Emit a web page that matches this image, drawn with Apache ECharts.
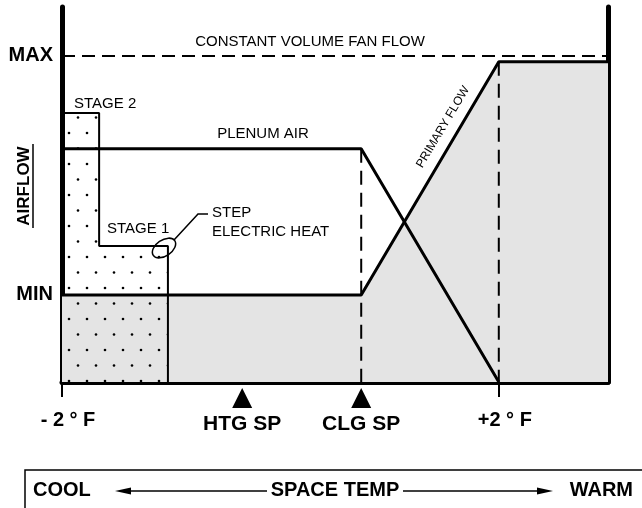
<!DOCTYPE html>
<html>
<head>
<meta charset="utf-8">
<script src="https://cdn.jsdelivr.net/npm/echarts@6/dist/echarts.min.js"></script>
<style>
  html, body { margin: 0; padding: 0; background: #fff; }
  #airflow { width: 642px; height: 508px; }
</style>
</head>
<body>
<div id="airflow"></div>
<script>
// space temp offset (deg F) on x, airflow (% of max) on y
var tempTicks = [-2, 2]
var tempLabels = ['- 2 ° F', '+2 ° F']
var flowTicks = [26.7, 100]
var flowLabels = ['MIN', 'MAX']
var setpointNames = ['HTG SP', 'CLG SP']
var setpointTemps = [-0.35, 0.74]
var primaryFlow = [[-2, 26.7], [0.74, 26.7], [2, 98.2], [3, 98.2]]
var plenumAir = [[-2, 71.5], [0.74, 71.5], [2, 0]]
var fanFlow = [[-2, 100], [3, 100]]
var heatStages = [[-2, 82.5], [-1.66, 82.5], [-1.66, 41.7], [-1.03, 41.7], [-1.03, 0]]
var clgLine = [[0.74, 71.5], [0.74, -2]]
var warmLine = [[2, 98.2], [2, 0]]

var FONT = '"Liberation Sans", Arial, Helvetica, sans-serif'
var GRAY = '#e4e4e4'
var markerY = -4.9

function dotPattern () {
  var c = document.createElement('canvas')
  c.width = 18
  c.height = 31
  var ctx = c.getContext('2d')
  ctx.fillStyle = '#000'
  ;[[15, 9], [6, 24.5]].forEach(function (p) {
    ctx.beginPath()
    ctx.arc(p[0], p[1], 1.3, 0, Math.PI * 2)
    ctx.fill()
  })
  return c
}

var chart = echarts.init(document.getElementById('airflow'))

var boldText = function (size) {
  return { fontFamily: FONT, fontWeight: 'bold', fontSize: size, fill: '#000' }
}
var plainText = function (size) {
  return { fontFamily: FONT, fontSize: size, fill: '#000' }
}

var option = {
  animation: false,
  backgroundColor: '#fff',
  grid: { left: 62, right: 34, top: 7, bottom: 126, containLabel: false },
  xAxis: {
    type: 'value',
    min: -2,
    max: 3,
    splitLine: { show: false },
    axisLine: { show: true, onZero: false, lineStyle: { color: '#000', width: 5 } },
    axisTick: { show: true, customValues: tempTicks, length: 15, lineStyle: { color: '#000', width: 2 } },
    axisLabel: {
      customValues: tempTicks,
      formatter: function (v) { return tempLabels[tempTicks.indexOf(v)] || '' },
      color: '#000',
      fontFamily: FONT,
      fontWeight: 'bold',
      fontSize: 20,
      margin: 28,
      padding: [0, 0, 0, 12]
    }
  },
  yAxis: [
    {
      type: 'value',
      min: 0,
      max: 115,
      position: 'left',
      splitLine: { show: false },
      axisLine: { show: true, onZero: false, lineStyle: { color: '#000', width: 5 } },
      axisTick: { show: false },
      axisLabel: {
        customValues: flowTicks,
        formatter: function (v) { return flowLabels[flowTicks.indexOf(v)] || '' },
        color: '#000',
        fontFamily: FONT,
        fontWeight: 'bold',
        fontSize: 20,
        margin: 9
      }
    },
    {
      type: 'value',
      min: 0,
      max: 115,
      position: 'right',
      splitLine: { show: false },
      axisLine: { show: true, onZero: false, lineStyle: { color: '#000', width: 5 } },
      axisTick: { show: false },
      axisLabel: { show: false }
    }
  ],
  series: [
    {
      name: 'primary area',
      type: 'line',
      data: primaryFlow,
      symbol: 'none',
      lineStyle: { width: 0, opacity: 0 },
      areaStyle: { color: GRAY, opacity: 1 },
      z: 1
    },
    {
      name: 'step electric heat',
      type: 'line',
      data: heatStages,
      symbol: 'none',
      lineStyle: { color: '#000', width: 2 },
      areaStyle: { color: { image: dotPattern(), repeat: 'repeat' }, opacity: 1 },
      z: 2
    },
    {
      name: 'primary flow',
      type: 'line',
      data: primaryFlow,
      symbol: 'none',
      lineStyle: { color: '#000', width: 3 },
      z: 3
    },
    {
      name: 'plenum air',
      type: 'line',
      data: plenumAir,
      symbol: 'none',
      lineStyle: { color: '#000', width: 3 },
      z: 3
    },
    {
      name: 'constant volume fan flow',
      type: 'line',
      data: fanFlow,
      symbol: 'none',
      lineStyle: { color: '#000', width: 2, type: [13, 7] },
      z: 3
    },
    {
      name: 'clg sp',
      type: 'line',
      data: clgLine,
      symbol: 'none',
      clip: false,
      lineStyle: { color: '#000', width: 2, type: [14, 8] },
      z: 3
    },
    {
      name: 'warm limit',
      type: 'line',
      data: warmLine,
      symbol: 'none',
      lineStyle: { color: '#000', width: 2, type: [14, 8] },
      z: 3
    },
    {
      name: 'setpoints',
      type: 'scatter',
      data: setpointTemps.map(function (t, i) { return { value: [t, markerY], name: setpointNames[i] } }),
      symbol: 'triangle',
      symbolSize: [20, 20],
      clip: false,
      itemStyle: { color: '#000', opacity: 1 },
      label: {
        show: true,
        position: 'bottom',
        distance: 6,
        formatter: '{b}',
        color: '#000',
        opacity: 1,
        fontFamily: FONT,
        fontWeight: 'bold',
        fontSize: 21
      },
      z: 4
    }
  ],
  graphic: [
    {
      type: 'group',
      x: 24,
      y: 186,
      rotation: Math.PI / 2,
      children: [
        { type: 'text', style: Object.assign({ text: 'AIRFLOW', x: 0, y: 0, align: 'center', verticalAlign: 'middle' }, boldText(17)) },
        { type: 'line', shape: { x1: -42, y1: 9, x2: 42, y2: 9 }, style: { stroke: '#000', lineWidth: 1.5 } }
      ]
    },
    { type: 'text', x: 310, y: 42, style: Object.assign({ text: 'CONSTANT VOLUME FAN FLOW', align: 'center', verticalAlign: 'middle' }, plainText(15)), z: 10 },
    { type: 'text', x: 263, y: 134, style: Object.assign({ text: 'PLENUM AIR', align: 'center', verticalAlign: 'middle' }, plainText(15)), z: 10 },
    { type: 'text', x: 74, y: 104, style: Object.assign({ text: 'STAGE 2', align: 'left', verticalAlign: 'middle' }, plainText(15)), z: 10 },
    { type: 'text', x: 107, y: 229, style: Object.assign({ text: 'STAGE 1', align: 'left', verticalAlign: 'middle' }, plainText(15)), z: 10 },
    { type: 'text', x: 212, y: 213, style: Object.assign({ text: 'STEP', align: 'left', verticalAlign: 'middle' }, plainText(15)), z: 10 },
    { type: 'text', x: 212, y: 232, style: Object.assign({ text: 'ELECTRIC HEAT', align: 'left', verticalAlign: 'middle' }, plainText(15)), z: 10 },
    { type: 'text', x: 443, y: 127, rotation: Math.atan2(233, 138), style: Object.assign({ text: 'PRIMARY FLOW', align: 'center', verticalAlign: 'middle' }, plainText(12)), z: 10 },
    { type: 'ellipse', x: 164, y: 248, rotation: 0.6, shape: { cx: 0, cy: 0, rx: 13, ry: 8 }, style: { fill: 'none', stroke: '#000', lineWidth: 1.5 }, z: 10 },
    { type: 'polyline', shape: { points: [[174, 240], [198, 214], [208, 214]] }, style: { fill: 'none', stroke: '#000', lineWidth: 1.5 }, z: 10 },
    // space temp legend box
    { type: 'rect', shape: { x: 25, y: 470, width: 640, height: 60 }, style: { fill: 'none', stroke: '#000', lineWidth: 1.5 } },
    { type: 'text', x: 33, y: 490, style: Object.assign({ text: 'COOL', align: 'left', verticalAlign: 'middle' }, boldText(20)) },
    { type: 'text', x: 335, y: 490, style: Object.assign({ text: 'SPACE TEMP', align: 'center', verticalAlign: 'middle' }, boldText(20)) },
    { type: 'text', x: 633, y: 490, style: Object.assign({ text: 'WARM', align: 'right', verticalAlign: 'middle' }, boldText(20)) },
    { type: 'line', shape: { x1: 125, y1: 491, x2: 267, y2: 491 }, style: { stroke: '#000', lineWidth: 1.5 } },
    { type: 'polygon', shape: { points: [[115, 491], [131, 487.5], [131, 494.5]] }, style: { fill: '#000' } },
    { type: 'line', shape: { x1: 403, y1: 491, x2: 543, y2: 491 }, style: { stroke: '#000', lineWidth: 1.5 } },
    { type: 'polygon', shape: { points: [[553, 491], [537, 487.5], [537, 494.5]] }, style: { fill: '#000' } }
  ]
}

chart.setOption(option)
</script>
</body>
</html>
